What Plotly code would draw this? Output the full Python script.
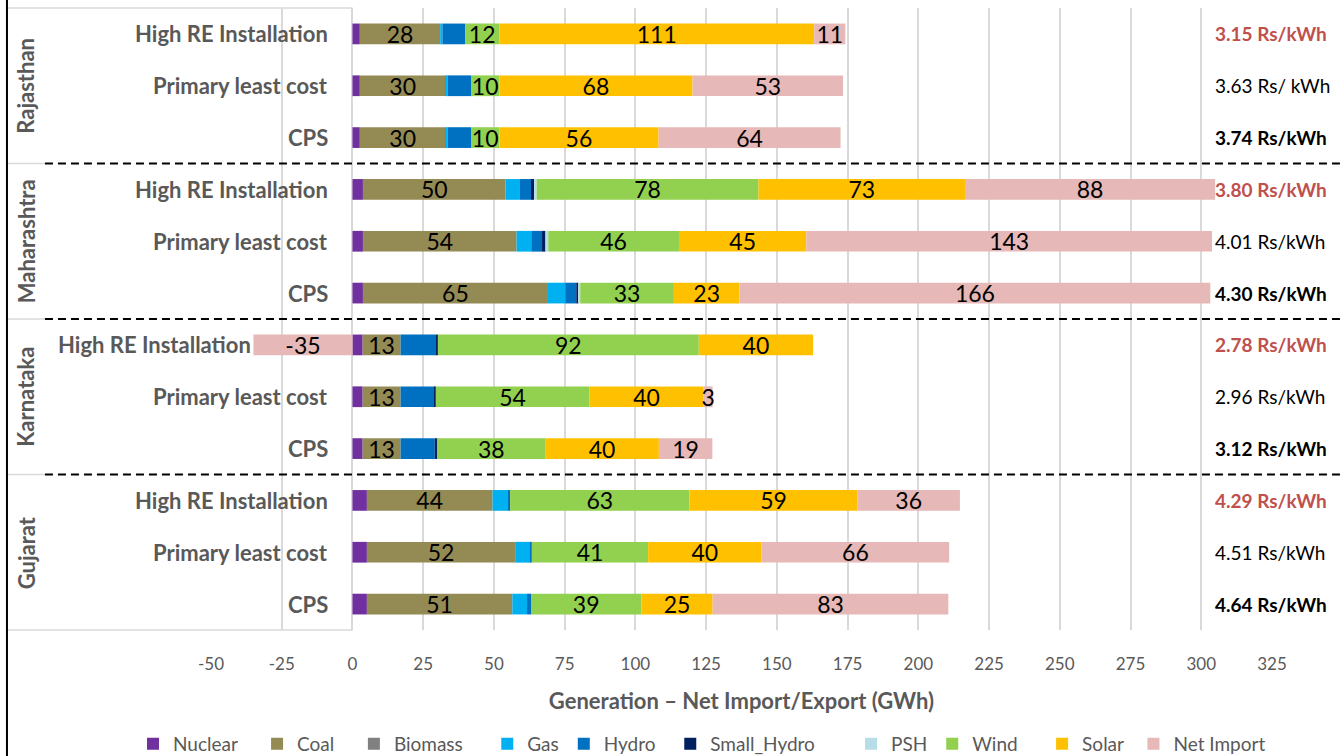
import plotly.graph_objects as go

# ---------------- data ----------------
states = ["Rajasthan", "Maharashtra", "Karnataka", "Gujarat"]
scenarios = ["High RE Installation", "Primary least cost", "CPS"]

sources = ["Nuclear", "Coal", "Biomass", "Gas", "Hydro", "Small_Hydro", "PSH",
           "Wind", "Solar", "Net Import"]

# rows: for each state -> High RE, Primary least cost, CPS  (GWh)
nuclear     = [2.6, 2.6, 2.6,   3.7, 3.7, 3.7,    3.6, 3.6, 3.6,    5.1, 5.1, 5.1]
coal        = [28.4, 30.3, 30.3, 50.4, 54.3, 65.4, 13.4, 13.4, 13.4, 44.4, 52.4, 51.4]
biomass     = [0, 0, 0,          0, 0, 0,          0, 0, 0,          0, 0, 0]
gas         = [0.8, 0.7, 0.7,    5.1, 5.2, 6.1,    0, 0, 0,          5.5, 5.0, 5.2]
hydro       = [8.0, 8.3, 8.3,    3.9, 3.8, 3.9,    12.3, 12.1, 12.1, 0.7, 0.9, 1.4]
small_hydro = [0, 0, 0,          1.1, 1.2, 0.8,    0.9, 0.3, 0.9,    0, 0, 0]
psh         = [0, 0, 0,          0.9, 1.0, 0.6,    0, 0, 0,          0, 0, 0]
wind        = [12.1, 10.0, 10.0, 78.4, 46.2, 33.1, 92.2, 54.4, 38.1, 63.4, 41.1, 39.0]
solar       = [111.3, 68.3, 56.3, 73.0, 45.0, 23.2, 40.4, 40.3, 40.2, 59.4, 40.1, 25.2]
net_import  = [11.0, 53.2, 64.3, 88.4, 143.4, 166.4, -35.0, 3.2, 18.9, 36.2, 66.3, 83.3]

cost_labels = ["3.15 Rs/kWh", "3.63 Rs/ kWh", "3.74 Rs/kWh",
               "3.80 Rs/kWh", "4.01 Rs/kWh", "4.30 Rs/kWh",
               "2.78 Rs/kWh", "2.96 Rs/kWh", "3.12 Rs/kWh",
               "4.29 Rs/kWh", "4.51 Rs/kWh", "4.64 Rs/kWh"]

x_ticks = list(range(-50, 326, 25))
x_tick_text = [str(v) for v in x_ticks]          # plain hyphen minus, as in source
x_title = "Generation \u2013 Net Import/Export (GWh)"

# ---------------- styling ----------------
colors = {"Nuclear": "#7030A0", "Coal": "#948A54", "Biomass": "#808080",
          "Gas": "#00B0F0", "Hydro": "#0070C0", "Small_Hydro": "#002060",
          "PSH": "#B7DEE8", "Wind": "#92D050", "Solar": "#FFC000",
          "Net Import": "#E6B8B7"}
# extra trailing spacing in legend entries (count of no-break spaces)
legend_pad = {"Nuclear": 3, "Coal": 3, "Biomass": 4, "Gas": 0, "Hydro": 2,
              "Small_Hydro": 0, "PSH": 0, "Wind": 4, "Solar": 1, "Net Import": 0}
# legend split into two parts so the long row is not wrapped
legend_of = {"Nuclear": "legend", "Coal": "legend", "Biomass": "legend",
             "Gas": "legend", "Hydro": "legend", "Small_Hydro": "legend",
             "PSH": "legend2", "Wind": "legend2", "Solar": "legend2",
             "Net Import": "legend2"}
labelled = {"Coal", "Wind", "Solar", "Net Import"}
series = dict(zip(sources, [nuclear, coal, biomass, gas, hydro, small_hydro,
                            psh, wind, solar, net_import]))

FONT = "Lato"
GREY = "#595959"

rows = [f"{s}|{sc}" for s in states for sc in scenarios]

fig = go.Figure()
for src in sources:
    kw = {}
    if src in labelled:
        kw = dict(texttemplate="%{x:.0f}", textposition="inside",
                  insidetextanchor="middle", textangle=0, constraintext="none",
                  textfont=dict(family=FONT, size=23, color="black"))
    fig.add_trace(go.Bar(
        y=rows, x=series[src], name=src + "\u00a0" * legend_pad[src],
        orientation="h", legend=legend_of[src],
        marker=dict(color=colors[src], line=dict(width=0)),
        hovertemplate=src + ": %{x}<extra></extra>", **kw))

legend_common = dict(orientation="h", traceorder="normal",
                     xref="container", yref="container",
                     xanchor="left", y=0.016, yanchor="middle",
                     font=dict(family=FONT, size=19, color=GREY),
                     itemwidth=30, bgcolor="rgba(0,0,0,0)")

fig.update_layout(
    width=1344, height=756,
    margin=dict(l=211, r=72, t=8, b=126),
    barmode="relative", bargap=0.6,
    plot_bgcolor="white", paper_bgcolor="white",
    font=dict(family=FONT, color=GREY),
    showlegend=True,
    legend=dict(x=133 / 1344, **legend_common),
    legend2=dict(x=851 / 1344, **legend_common),
)
fig.update_xaxes(range=[-50, 325], tickvals=x_ticks, ticktext=x_tick_text,
                 showgrid=True, gridcolor="#D9D9D9", gridwidth=1.5,
                 zeroline=True, zerolinecolor="#D9D9D9", zerolinewidth=1.5,
                 showline=False, ticks="", ticklabelstandoff=22,
                 tickfont=dict(family=FONT, size=17, color=GREY),
                 automargin=False,
                 title=dict(text=f"<b>{x_title}</b>", standoff=20,
                            font=dict(family=FONT, size=22, color=GREY)))
fig.update_yaxes(type="category", categoryorder="array", categoryarray=rows,
                 range=[len(rows) - 0.5, -0.5], showticklabels=False,
                 showgrid=False, zeroline=False, showline=False, automargin=False)

# scenario labels (left of the category axis / negative bars)
for i, r in enumerate(rows):
    sc = scenarios[i % 3]
    xmin = min(0, net_import[i])
    fig.add_annotation(x=xmin, y=r, xref="x", yref="y", text=f"<b>{sc}</b>",
                       showarrow=False, xanchor="right", yanchor="middle",
                       xshift=-22 if xmin >= 0 else 0,
                       font=dict(family=FONT, size=22, color=GREY))
    # cost labels on the right
    if i % 3 == 0:
        txt, col = f"<b>{cost_labels[i]}</b>", "#C0504D"
    elif i % 3 == 1:
        txt, col = cost_labels[i], "black"
    else:
        txt, col = f"<b>{cost_labels[i]}</b>", "black"
    fig.add_annotation(x=0.9444, y=r, xref="paper", yref="y", text=txt,
                       showarrow=False, xanchor="left", yanchor="middle",
                       font=dict(family=FONT, size=19, color=col))

# state labels (rotated)
for k, s in enumerate(states):
    fig.add_annotation(x=-0.1744, y=rows[3 * k + 1], xref="paper", yref="y",
                       text=f"<b>{s}</b>", textangle=-90, showarrow=False,
                       xanchor="center", yanchor="middle",
                       font=dict(family=FONT, size=22, color=GREY))

# axis-table lines
x_left = -0.1913
x_zero = 50 / 375
fig.add_shape(type="line", xref="paper", yref="paper", x0=x_left, x1=x_zero,
              y0=1, y1=1, line=dict(color="#D9D9D9", width=1.5))
fig.add_shape(type="line", xref="paper", yref="paper", x0=x_left, x1=x_zero,
              y0=0, y1=0, line=dict(color="#D9D9D9", width=1.5))
for k in range(1, len(states)):
    yb = 3 * k - 0.5
    fig.add_shape(type="line", xref="paper", yref="y", x0=x_left, x1=-0.1565,
                  y0=yb, y1=yb, line=dict(color="#D9D9D9", width=1.5))
    fig.add_shape(type="line", xref="paper", yref="y", x0=-0.1565, x1=1.07,
                  y0=yb, y1=yb, line=dict(color="black", width=2, dash="8px,5px"))
fig.add_shape(type="line", xref="paper", yref="paper", x0=-0.1923, x1=-0.1923,
              y0=-0.21, y1=1.02, line=dict(color="black", width=2))

fig.write_html("out.html")
